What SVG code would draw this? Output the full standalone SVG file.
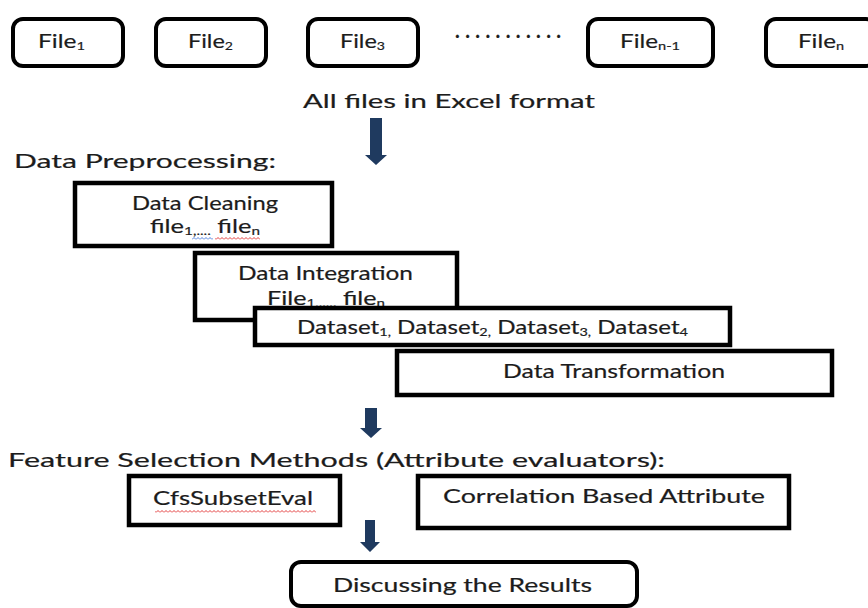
<svg xmlns="http://www.w3.org/2000/svg" width="868" height="608" viewBox="0 0 868 608">
  <style>
    .t { font-family: "Lato", "Open Sans", "Liberation Sans", sans-serif; font-size: 20px; fill: #1c1c1c; stroke: #1c1c1c; stroke-width: 0.2; }
    .sub { font-size: 12px; }
    .file { fill: #fff; stroke: #000; stroke-width: 4; }
    .box { fill: #fff; stroke: #000; stroke-width: 4.5; }
    .arrow { fill: #1f3a5f; }
  </style>
  <defs>
    <pattern id="wavyRed" width="4" height="3" patternUnits="userSpaceOnUse">
      <path d="M0,2.5 L2,0.5 L4,2.5" fill="none" stroke="#e02828" stroke-width="0.9"/>
    </pattern>
    <pattern id="wavyBlue" width="4" height="3" patternUnits="userSpaceOnUse">
      <path d="M0,2.5 L2,0.5 L4,2.5" fill="none" stroke="#3a6fd8" stroke-width="0.9"/>
    </pattern>
  </defs>

  <rect width="868" height="608" fill="#fff"/>

  <!-- input files -->
  <g id="file1">
    <rect class="file" x="13" y="19" width="110" height="47" rx="10"/>
    <text class="t" x="38" y="48" textLength="47" lengthAdjust="spacingAndGlyphs">File<tspan class="sub" dy="2">1</tspan></text>
  </g>
  <g id="file2">
    <rect class="file" x="156" y="19" width="110" height="47" rx="10"/>
    <text class="t" x="188" y="48" textLength="45" lengthAdjust="spacingAndGlyphs">File<tspan class="sub" dy="2">2</tspan></text>
  </g>
  <g id="file3">
    <rect class="file" x="308" y="19" width="110" height="47" rx="10"/>
    <text class="t" x="340" y="48" textLength="45" lengthAdjust="spacingAndGlyphs">File<tspan class="sub" dy="2">3</tspan></text>
  </g>
  <g id="ellipsis">
    <text class="t" x="455" y="38" font-weight="bold" textLength="106" lengthAdjust="spacing">...........</text>
  </g>
  <g id="fileNminus1">
    <rect class="file" x="588" y="19" width="125" height="47" rx="10"/>
    <text class="t" x="620" y="48" textLength="60" lengthAdjust="spacingAndGlyphs">File<tspan class="sub" dy="2">n-1</tspan></text>
  </g>
  <g id="fileN">
    <rect class="file" x="766" y="19" width="110" height="47" rx="10"/>
    <text class="t" x="798" y="48" textLength="46" lengthAdjust="spacingAndGlyphs">File<tspan class="sub" dy="2">n</tspan></text>
  </g>

  <g id="excelLabel">
    <text class="t" x="303" y="108" textLength="292" lengthAdjust="spacingAndGlyphs">All files in Excel format</text>
  </g>

  <!-- preprocessing stage -->
  <g id="preprocessingLabel">
    <text class="t" x="14" y="168" textLength="262" lengthAdjust="spacingAndGlyphs">Data Preprocessing:</text>
  </g>

  <g id="dataCleaning">
    <rect class="box" x="75" y="183" width="257" height="63"/>
    <text class="t" x="132" y="210" textLength="146" lengthAdjust="spacingAndGlyphs">Data Cleaning</text>
    <text class="t" x="150" y="233" textLength="110" lengthAdjust="spacingAndGlyphs">file<tspan class="sub" dy="2">1,....</tspan><tspan dy="-2"> file</tspan><tspan class="sub" dy="2">n</tspan></text>
    <rect x="192" y="237" width="21" height="3" fill="url(#wavyBlue)"/>
    <rect x="215" y="237" width="45" height="3" fill="url(#wavyRed)"/>
  </g>

  <g id="dataIntegration">
    <rect class="box" x="195" y="253" width="262" height="67"/>
    <text class="t" x="238" y="280" textLength="175" lengthAdjust="spacingAndGlyphs">Data Integration</text>
    <text class="t" x="267" y="305" textLength="118" lengthAdjust="spacingAndGlyphs">File<tspan class="sub" dy="2">1,.....</tspan><tspan dy="-2"> file</tspan><tspan class="sub" dy="2">n</tspan></text>
  </g>

  <g id="datasets">
    <rect class="box" x="255" y="308" width="475" height="37"/>
    <text class="t" x="297" y="334" textLength="391" lengthAdjust="spacingAndGlyphs">Dataset<tspan class="sub" dy="2">1,</tspan><tspan dy="-2"> Dataset</tspan><tspan class="sub" dy="2">2,</tspan><tspan dy="-2"> Dataset</tspan><tspan class="sub" dy="2">3,</tspan><tspan dy="-2"> Dataset</tspan><tspan class="sub" dy="2">4</tspan></text>
  </g>

  <g id="dataTransformation">
    <rect class="box" x="397" y="351" width="435" height="44"/>
    <text class="t" x="503" y="378" textLength="222" lengthAdjust="spacingAndGlyphs">Data Transformation</text>
  </g>

  <!-- feature selection stage -->
  <g id="featureSelectionLabel">
    <text class="t" x="8" y="467" textLength="657" lengthAdjust="spacingAndGlyphs">Feature Selection Methods (Attribute evaluators):</text>
  </g>

  <g id="cfsSubsetEval">
    <rect class="box" x="129" y="476" width="211" height="49"/>
    <text class="t" x="153" y="505" textLength="160" lengthAdjust="spacingAndGlyphs">CfsSubsetEval</text>
    <rect x="155" y="510" width="161" height="3" fill="url(#wavyRed)"/>
  </g>

  <g id="correlationAttribute">
    <rect class="box" x="418" y="476" width="371" height="52"/>
    <text class="t" x="443" y="503" textLength="322" lengthAdjust="spacingAndGlyphs">Correlation Based Attribute</text>
  </g>

  <g id="results">
    <rect class="file" x="291" y="562" width="346" height="44" rx="10"/>
    <text class="t" x="333" y="592" textLength="259" lengthAdjust="spacingAndGlyphs">Discussing the Results</text>
  </g>

  <!-- flow arrows -->
  <g id="connectors">
    <path class="arrow" d="M370,118 H382 V155 H387 L376,165 L365,155 H370 Z"/>
    <path class="arrow" d="M365,408 H377 V428 H382 L371,438 L360,428 H365 Z"/>
    <path class="arrow" d="M365,520 H375 V542 H380 L370,552 L360,542 H365 Z"/>
  </g>
</svg>
